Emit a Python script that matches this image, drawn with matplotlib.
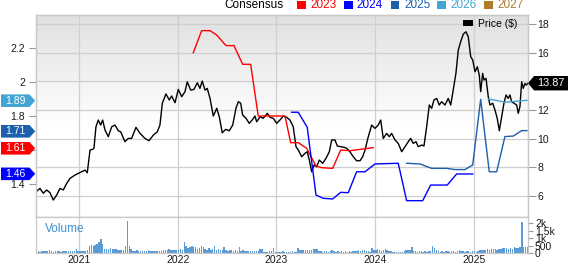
import matplotlib
matplotlib.use('Agg')
import matplotlib.pyplot as plt
import numpy as np
from matplotlib.patches import Patch, Polygon, Rectangle
from matplotlib.transforms import blended_transform_factory, ScaledTranslation

plt.rcParams['font.family'] = ['Liberation Sans', 'DejaVu Sans']

# ---------------- data ----------------
years = [2021, 2022, 2023, 2024, 2025]

price_t = [2020.561, 2020.601, 2020.635, 2020.669, 2020.703, 2020.736, 2020.771, 2020.804, 2020.838, 2020.872,
           2020.906, 2020.956, 2020.990, 2021.024, 2021.058, 2021.081, 2021.109, 2021.136, 2021.149, 2021.169,
           2021.193, 2021.217, 2021.237, 2021.261, 2021.294, 2021.329, 2021.362, 2021.396, 2021.420, 2021.463,
           2021.497, 2021.531, 2021.575, 2021.616, 2021.666, 2021.707, 2021.751, 2021.791, 2021.818, 2021.842,
           2021.879, 2021.913, 2021.937, 2021.971, 2022.004, 2022.039, 2022.072, 2022.095, 2022.130, 2022.163,
           2022.197, 2022.224, 2022.247, 2022.275, 2022.298, 2022.326, 2022.359, 2022.394, 2022.420, 2022.450,
           2022.485, 2022.521, 2022.556, 2022.589, 2022.613, 2022.637, 2022.657, 2022.691, 2022.724, 2022.759,
           2022.782, 2022.799, 2022.833, 2022.866, 2022.907, 2022.934, 2022.968, 2023.002, 2023.035, 2023.069,
           2023.103, 2023.137, 2023.170, 2023.198, 2023.221, 2023.256, 2023.289, 2023.312, 2023.333, 2023.357,
           2023.380, 2023.408, 2023.434, 2023.469, 2023.502, 2023.536, 2023.560, 2023.593, 2023.617, 2023.651,
           2023.685, 2023.712, 2023.745, 2023.779, 2023.813, 2023.847, 2023.874, 2023.898, 2023.931, 2023.966,
           2023.999, 2024.032, 2024.057, 2024.083, 2024.118, 2024.144, 2024.168, 2024.202, 2024.235, 2024.270,
           2024.303, 2024.337, 2024.361, 2024.387, 2024.415, 2024.438, 2024.473, 2024.496, 2024.523, 2024.550,
           2024.574, 2024.597, 2024.625, 2024.651, 2024.675, 2024.709, 2024.742, 2024.767, 2024.787, 2024.820,
           2024.844, 2024.868, 2024.895, 2024.922, 2024.945, 2024.970, 2024.990, 2025.014, 2025.037, 2025.057,
           2025.071, 2025.091, 2025.104, 2025.125, 2025.148, 2025.165, 2025.193, 2025.216, 2025.239, 2025.260,
           2025.284, 2025.307, 2025.328, 2025.351, 2025.368, 2025.385, 2025.409, 2025.436, 2025.452, 2025.469,
           2025.487, 2025.503, 2025.520, 2025.535, 2025.550]
price = [6.30, 6.53, 6.19, 6.42, 6.23, 5.72, 6.07, 6.53, 6.42, 6.88,
         7.23, 7.46, 7.58, 7.69, 7.81, 7.62, 9.21, 9.26, 9.33, 10.83,
         11.30, 10.95, 11.30, 10.60, 10.14, 10.83, 10.95, 10.55, 10.48, 9.79,
         10.02, 10.02, 10.79, 10.37, 10.02, 9.86, 10.25, 10.48, 10.95, 12.47,
         13.12, 12.70, 12.98, 12.51, 13.44, 12.93, 13.28, 13.97, 13.39, 13.44,
         13.90, 13.51, 14.02, 13.39, 13.51, 12.81, 11.58, 12.12, 11.53, 10.41,
         10.65, 10.55, 10.95, 12.12, 12.58, 12.47, 11.65, 11.42, 11.07, 11.35,
         11.58, 11.18, 11.53, 11.42, 11.77, 11.49, 11.42, 11.07, 11.30, 11.58,
         11.49, 11.30, 10.83, 9.44, 9.21, 8.74, 8.98, 9.09, 8.51, 7.69,
         8.16, 8.04, 8.51, 8.28, 8.63, 9.09, 9.91, 9.91, 9.49, 9.44,
         9.40, 9.33, 9.09, 8.74, 8.46, 8.46, 8.74, 9.21, 10.14, 10.95,
         10.72, 10.95, 11.30, 10.02, 10.37, 10.14, 10.37, 9.91, 9.67, 9.09,
         9.44, 9.79, 10.02, 9.67, 9.79, 9.44, 9.56, 9.49, 10.83, 12.35,
         12.12, 12.70, 12.81, 12.35, 12.58, 12.35, 12.81, 12.35, 13.16, 14.56,
         16.19, 16.76, 17.30, 17.46, 17.11, 15.72, 15.49, 14.67, 15.02, 14.44,
         13.28, 14.56, 14.09, 14.21, 12.93, 12.35, 12.47, 12.00, 11.42, 10.55,
         11.53, 12.47, 13.05, 12.81, 13.05, 12.58, 12.47, 12.35, 11.77, 12.23,
         13.97, 13.51, 13.86, 13.74, 13.87]

c2023_t = [2022.156, 2022.241, 2022.326, 2022.394, 2022.488, 2022.569, 2022.657, 2022.738, 2022.815, 2023.086,
           2023.144, 2023.221, 2023.306, 2023.401, 2023.458, 2023.570, 2023.651, 2023.745, 2023.982]
c2023 = [2.172, 2.302, 2.302, 2.276, 2.214, 2.214, 2.104, 2.104, 1.800, 1.800,
         1.643, 1.643, 1.610, 1.506, 1.496, 1.492, 1.600, 1.596, 1.614]

c2024_t = [2023.154, 2023.221, 2023.312, 2023.401, 2023.475, 2023.570, 2023.651, 2023.728, 2023.813, 2023.898,
           2023.999, 2024.235, 2024.320, 2024.483, 2024.564, 2024.732, 2024.827, 2024.990]
c2024 = [1.822, 1.822, 1.733, 1.335, 1.316, 1.312, 1.351, 1.349, 1.472, 1.472,
         1.518, 1.522, 1.302, 1.302, 1.394, 1.394, 1.459, 1.459]

c2025_t = [2024.320, 2024.455, 2024.574, 2024.726, 2024.810, 2024.912, 2024.990, 2025.071, 2025.158, 2025.233,
           2025.317, 2025.402, 2025.487, 2025.541]
c2025 = [1.522, 1.518, 1.492, 1.492, 1.485, 1.485, 1.512, 1.898, 1.472, 1.472,
         1.679, 1.682, 1.714, 1.714]

c2026_t = [2025.148, 2025.236, 2025.317, 2025.419, 2025.541]
c2026 = [1.900, 1.891, 1.881, 1.886, 1.892]

consensus_labels = ['2023', '2024', '2025', '2026', '2027']
consensus_colors = ['#ff0000', '#0000ff', '#1c5fac', '#42a5d5', '#b07c2c']
flag_values = [1.89, 1.71, 1.61, 1.46]
flag_colors = ['#42a5d5', '#1c5fac', '#ff0000', '#0000ff']
last_price = 13.87

price_ticks = [6, 8, 10, 12, 14, 16, 18]
price_tick_labels = ['6', '8', '10', '12', '', '16', '18']      # 14 sits under the price flag
cons_ticks = [1.4, 1.6, 1.8, 2.0, 2.2]
cons_tick_labels = ['1.4', '', '1.8', '2', '2.2']               # 1.6 sits under the 1.61 flag

vol_start = 2020.565
volume = [110, 130, 100, 120, 150, 110, 130, 180, 120, 100, 140, 130, 110, 100, 120, 150, 130, 110, 160, 140,
          120, 270, 140, 120, 160, 130, 150, 200, 450, 570, 500, 570, 640, 730, 950, 600, 270, 300, 250, 320,
          280, 240, 260, 220, 200, 180, 200, 450, 2150, 450, 300, 150, 120, 180, 140, 110, 160, 130, 120, 170,
          110, 140, 120, 110, 130, 120, 140, 230, 220, 200, 250, 210, 230, 190, 220, 200, 240, 230, 720, 450,
          350, 400, 500, 380, 420, 300, 340, 450, 420, 250, 200, 340, 180, 300, 450, 230, 260, 200, 180, 410,
          180, 150, 200, 170, 160, 190, 150, 390, 150, 170, 140, 160, 130, 150, 140, 120, 150, 130, 270, 250,
          90, 100, 80, 110, 120, 340, 90, 100, 80, 90, 110, 90, 80, 100, 90, 110, 80, 100, 340, 220,
          200, 180, 210, 190, 230, 200, 280, 300, 260, 110, 120, 100, 110, 130, 100, 110, 230, 110, 100, 120,
          90, 110, 100, 120, 90, 110, 100, 120, 110, 160, 170, 150, 180, 170, 110, 120, 100, 340, 180, 170,
          270, 180, 160, 190, 270, 170, 150, 160, 90, 100, 80, 90, 100, 90, 110, 180, 200, 220, 390, 120,
          110, 100, 130, 110, 90, 120, 100, 110, 120, 450, 340, 230, 110, 100, 120, 90, 110, 130, 100, 110,
          120, 100, 110, 230, 110, 120, 100, 110, 130, 100, 120, 110, 100, 120, 180, 200, 230, 190, 250, 220,
          270, 240, 260, 230, 270, 300, 330, 310, 340, 280, 360, 300, 390, 330, 370, 400, 2080, 410, 430, 400]
vol_ticks = [0, 500, 1000, 1500, 2000]
vol_tick_labels = ['0', '500', '1k', '1.5k', '2k']

# ---------------- figure ----------------
W, H = 568, 264
fig = plt.figure(figsize=(W / 100, H / 100), dpi=100)


def rect(l, t, r, b):
    return [l / W, 1 - b / H, (r - l) / W, (b - t) / H]


t0, t1 = 2020.561, 2025.551
spine_c = '#c8c8c8'
grid_c = '#cfcfcf'
tick_c = '#999999'
lab_c = '#1a1a1a'

axp = fig.add_axes(rect(36, 15, 528, 217))
axc = axp.twinx()
axp.yaxis.tick_right()
axc.yaxis.tick_left()

# gradient background
grad = np.concatenate([np.ones(45), np.linspace(1.0, 0.88, 55)])[:, None]
axp.imshow(np.dstack([grad, grad, grad]), extent=[0, 1, 0, 1], transform=axp.transAxes,
           aspect='auto', origin='lower', zorder=0, interpolation='bilinear')

axp.set_xlim(t0, t1)
axp.set_ylim(4.535, 18.63)
axp.set_yticks(price_ticks)
axp.set_yticklabels(price_tick_labels)
axp.set_xticks(years)
axp.grid(True, color=grid_c, lw=0.9)
axp.set_axisbelow(True)
axp.tick_params(axis='x', length=0, labelbottom=False)
axp.tick_params(axis='y', direction='out', length=5.5, width=0.8, color=tick_c,
                labelsize=7.5, pad=1.2, labelcolor=lab_c)
axp.plot(price_t, price, color='black', lw=1.0, zorder=3)

axc.set_ylim(1.206, 2.394)
axc.set_yticks(cons_ticks)
axc.set_yticklabels(cons_tick_labels)
axc.tick_params(axis='y', direction='out', length=5, width=0.8, color=tick_c,
                labelsize=7.5, pad=3, labelcolor=lab_c)
for tt, vv, cc in [(c2023_t, c2023, consensus_colors[0]), (c2024_t, c2024, consensus_colors[1]),
                   (c2025_t, c2025, consensus_colors[2]), (c2026_t, c2026, consensus_colors[3])]:
    axc.plot(tt, vv, color=cc, lw=1.0, zorder=2)

for a in (axp, axc):
    for s in a.spines.values():
        s.set_color(spine_c)
        s.set_linewidth(0.9)

# price legend inside
axc.legend(handles=[Patch(facecolor='black', edgecolor='none')], labels=['Price ($)'],
           loc='upper right', bbox_to_anchor=((517 - 36) / 492, (217 - 19) / 202),
           frameon=False, fontsize=7.5, borderaxespad=0, borderpad=0,
           handlelength=1.0, handleheight=0.45, handletextpad=0.45)

# left flags
btl = blended_transform_factory(axc.transAxes, axc.transData)
fx = fig.dpi_scale_trans
for v, c in zip(flag_values, flag_colors):
    off = ScaledTranslation(0, v, btl)
    verts = np.array([[-35, -6.3], [-6.5, -6.3], [-0.8, 0], [-6.5, 6.3], [-35, 6.3]]) / 100.0
    p = Polygon(verts, closed=True, facecolor=c, edgecolor='none', transform=fx + off,
                clip_on=False, zorder=20)
    axc.add_artist(p)
    axc.annotate(f'{v:.2f}', xy=(0, v), xycoords=btl, xytext=(-20.5 * 0.72, 0),
                 textcoords='offset points', ha='center', va='center', color='white',
                 fontsize=7.5, zorder=21, annotation_clip=False)

# right flag (last price)
bta = blended_transform_factory(axc.transAxes, axc.transData)
lp_axc = axc.transData.inverted().transform(axp.transData.transform((t1, last_price)))[1]
off = ScaledTranslation(1, lp_axc, bta)
verts = np.array([[0, 0], [6, -7.2], [41, -7.2], [41, 7.2], [6, 7.2]]) / 100.0
axc.add_artist(Polygon(verts, closed=True, facecolor='black', edgecolor='none',
                       transform=fx + off, clip_on=False, zorder=20))
axc.annotate(f'{last_price:.2f}', xy=(1, lp_axc), xycoords=bta, xytext=(22.5 * 0.72, 0),
             textcoords='offset points', ha='center', va='center', color='white',
             fontsize=7.8, zorder=21, annotation_clip=False)

# ---------------- volume ----------------
axv = fig.add_axes(rect(36, 217, 528, 253))
vol_t = vol_start + np.arange(len(volume)) / 52.0
axv.bar(vol_t, volume, width=0.75 / 52, color='#5b9bd5', linewidth=0, zorder=2)
axv.set_xlim(t0, t1)
axv.set_ylim(0, 2430)
axv.yaxis.tick_right()
axv.set_yticks(vol_ticks)
axv.set_yticklabels(vol_tick_labels)
axv.set_xticks(years)
axv.set_xticklabels([str(y) for y in years])
axv.grid(True, axis='x', color=grid_c, lw=0.9)
axv.set_axisbelow(True)
axv.tick_params(axis='y', direction='out', length=3.5, width=0.8, color=tick_c,
                labelsize=7.5, pad=1.5, labelcolor=lab_c)
axv.tick_params(axis='x', length=0, labelsize=7.5, pad=1.2, labelcolor=lab_c)
for s in axv.spines.values():
    s.set_color(spine_c)
    s.set_linewidth(0.9)
axv.text((45 - 36) / 492, (253 - 229) / 36, 'Volume', transform=axv.transAxes,
         color='#3a8fd0', fontsize=8.5, va='center', ha='left')

# ---------------- top legend ----------------
ly = 1 - 5.4 / H
fig.text(224 / W, ly, 'Consensus', color='black', fontsize=8.5, va='center', ha='left')
sq_x = [297.3, 344.0, 390.7, 437.5, 484.3]
tx_x = [310.0, 356.7, 404.0, 450.7, 497.3]
for lbl, c, sx, tx in zip(consensus_labels, consensus_colors, sq_x, tx_x):
    fig.add_artist(Rectangle((sx / W, 1 - 9.3 / H), 8.7 / W, 8.3 / H, transform=fig.transFigure,
                             facecolor=c, edgecolor='none'))
    fig.text(tx / W, ly, lbl, color=c, fontsize=8.5, va='center', ha='left')

fig.savefig('out.png', dpi=100)
